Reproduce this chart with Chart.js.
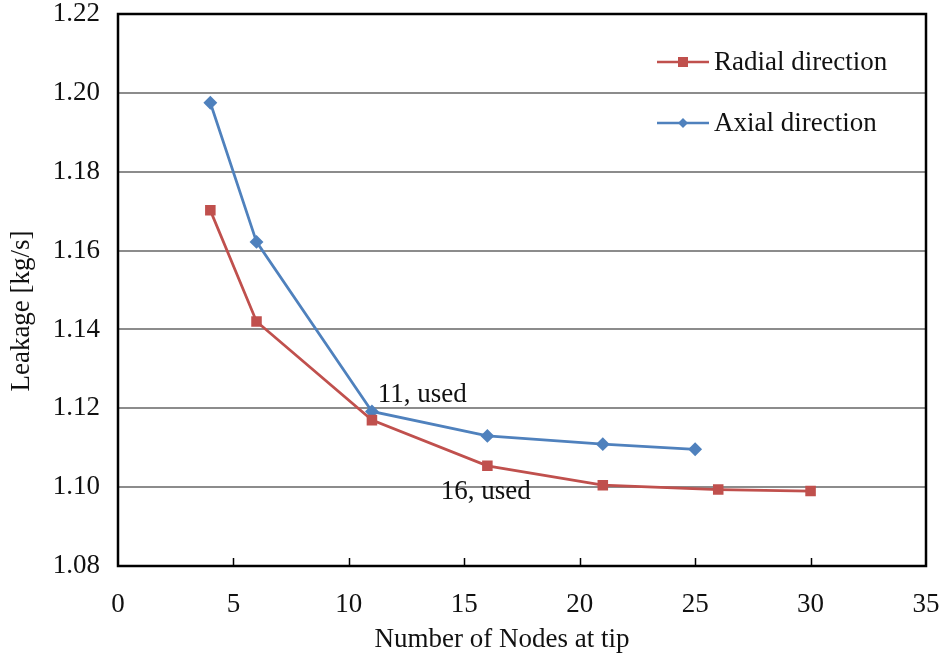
<!DOCTYPE html>
<html>
<head>
<meta charset="utf-8">
<script src="https://cdn.jsdelivr.net/npm/chart.js@4"></script>
<style>
  html, body { margin: 0; padding: 0; background: #fff; }
  #wrap { width: 943px; height: 659px; }
</style>
</head>
<body>
<div id="wrap"><canvas id="leakChart" width="943" height="659"></canvas></div>
<script>
// data
const radialNodes = [4, 6, 11, 16, 21, 26, 30];
const radialLeak  = [1.1702, 1.1420, 1.1170, 1.1054, 1.1005, 1.0994, 1.0990];
const axialNodes  = [4, 6, 11, 16, 21, 25];
const axialLeak   = [1.1975, 1.1622, 1.1192, 1.1130, 1.1109, 1.1096];
const xTicks = [0, 5, 10, 15, 20, 25, 30, 35];
const yTicks = [1.08, 1.10, 1.12, 1.14, 1.16, 1.18, 1.20, 1.22];
const notes = [
  { text: '11, used', x: 11.25, y: 1.1235 },
  { text: '16, used', x: 13.98, y: 1.0988 }
];

const RED = '#C0504D';
const BLUE = '#4F81BD';
const FONT = "'Liberation Serif', 'Times New Roman', serif";

function toXY(xs, ys) {
  return xs.map((x, i) => ({ x: x, y: ys[i] }));
}

// inside ticks, frame, titles, notes and legend drawn on top
const extras = {
  id: 'extras',
  afterDraw(chart) {
    const c = chart.ctx;
    const a = chart.chartArea;
    const sx = chart.scales.x, sy = chart.scales.y;
    c.save();
    // x ticks pointing up into the plot
    c.strokeStyle = '#000';
    c.lineWidth = 1.5;
    xTicks.slice(1, -1).forEach(v => {
      const px = Math.round(sx.getPixelForValue(v)) + 0.5;
      c.beginPath();
      c.moveTo(px, a.bottom);
      c.lineTo(px, a.bottom - 8);
      c.stroke();
    });
    // frame
    c.lineWidth = 2.5;
    c.strokeRect(a.left, a.top, a.right - a.left, a.bottom - a.top);

    c.fillStyle = '#111';
    c.font = '27px ' + FONT;
    c.textBaseline = 'middle';
    // axis titles (sit a bit off centre in the original)
    c.textAlign = 'center';
    c.fillText('Number of Nodes at tip', 502, 640);
    c.save();
    c.translate(22, 311);
    c.rotate(-Math.PI / 2);
    c.fillText('Leakage [kg/s]', 0, 0);
    c.restore();

    // notes
    c.textAlign = 'left';
    notes.forEach(n => {
      c.fillText(n.text, sx.getPixelForValue(n.x), sy.getPixelForValue(n.y));
    });
    // legend
    const items = [
      { label: 'Radial direction', color: RED, shape: 'square' },
      { label: 'Axial direction', color: BLUE, shape: 'diamond' }
    ];
    items.forEach((it, i) => {
      const y = 62 + i * 61;
      c.strokeStyle = it.color;
      c.lineWidth = 2.5;
      c.beginPath();
      c.moveTo(657, y);
      c.lineTo(709, y);
      c.stroke();
      c.fillStyle = it.color;
      if (it.shape === 'square') {
        c.fillRect(683 - 5, y - 5, 10, 10);
      } else {
        c.beginPath();
        c.moveTo(683, y - 5); c.lineTo(688, y); c.lineTo(683, y + 5); c.lineTo(678, y);
        c.closePath(); c.fill();
      }
      c.fillStyle = '#111';
      c.fillText(it.label, 714, y + 1);
    });
    c.restore();
  }
};

const ctx = document.getElementById('leakChart');
const leakChart = new Chart(ctx, {
  type: 'scatter',
  data: {
    datasets: [{
      label: 'Radial direction',
      data: toXY(radialNodes, radialLeak),
      showLine: true,
      borderColor: RED,
      backgroundColor: RED,
      borderWidth: 2.75,
      pointStyle: 'rect',
      pointRadius: 5.5,
      pointHoverRadius: 5.5
    }, {
      label: 'Axial direction',
      data: toXY(axialNodes, axialLeak),
      showLine: true,
      borderColor: BLUE,
      backgroundColor: BLUE,
      borderWidth: 2.75,
      pointStyle: 'rectRot',
      pointRadius: 5,
      pointHoverRadius: 5
    }]
  },
  options: {
    responsive: false,
    animation: false,
    layout: { padding: { top: 14, right: 17, left: 0, bottom: 0 } },
    plugins: {
      legend: { display: false },
      tooltip: { enabled: false }
    },
    scales: {
      x: {
        type: 'linear',
        min: 0, max: 35,
        afterBuildTicks: s => { s.ticks = xTicks.map(v => ({ value: v })); },
        afterFit: s => {
          s.height = 659 - 566;
          s.paddingLeft = 0; s.paddingRight = 0;
        },
        grid: { display: false },
        border: { display: false },
        ticks: {
          color: '#111',
          font: { family: FONT, size: 27 },
          padding: 15,
          maxRotation: 0
        },
        title: { display: false }
      },
      y: {
        type: 'linear',
        min: 1.08, max: 1.22,
        afterBuildTicks: s => { s.ticks = yTicks.map(v => ({ value: v })); },
        afterFit: s => {
          s.width = 118;
          s.paddingTop = 0; s.paddingBottom = 0;
        },
        grid: {
          color: ctx => (ctx.tick && (ctx.tick.value === 1.08 || ctx.tick.value === 1.22)) ? 'rgba(0,0,0,0)' : '#8c8c8c',
          lineWidth: 2,
          drawTicks: false
        },
        border: { display: false },
        ticks: {
          color: '#111',
          font: { family: FONT, size: 27 },
          padding: 18,
          callback: v => v.toFixed(2)
        },
        title: { display: false }
      }
    }
  },
  plugins: [extras]
});
</script>
</body>
</html>
